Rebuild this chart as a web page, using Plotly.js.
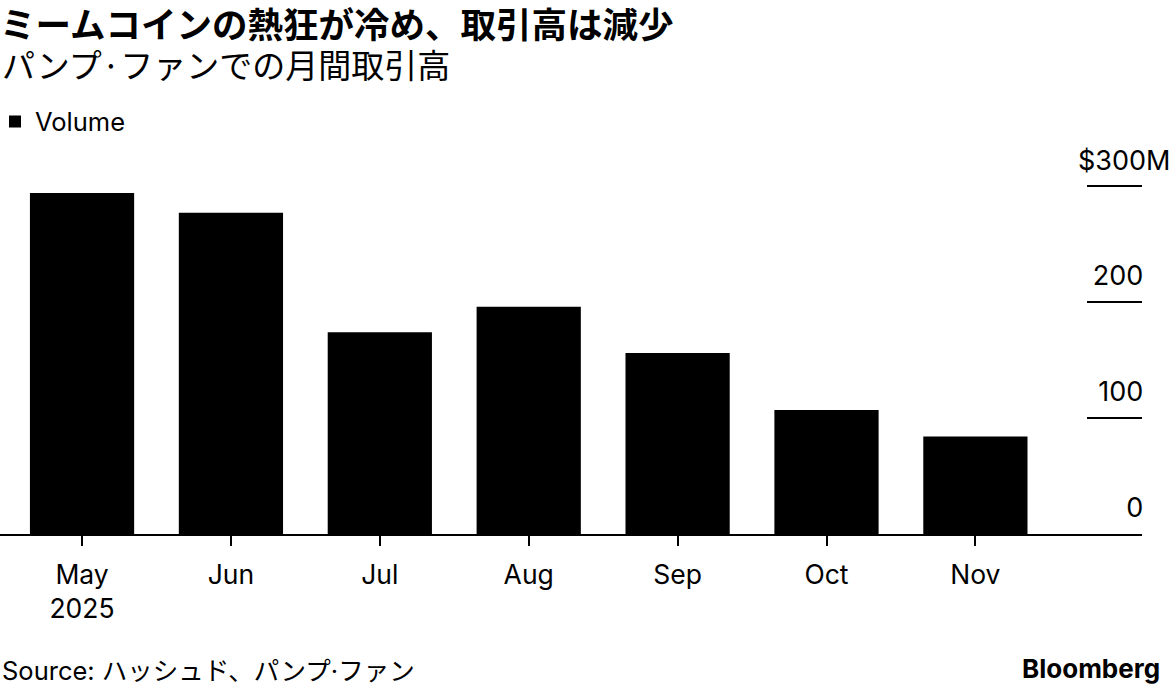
<!DOCTYPE html>
<html>
<head>
<meta charset="utf-8">
<script src="https://cdn.plot.ly/plotly-3.0.1.min.js"></script>
<style>html,body{margin:0;padding:0;background:#fff;}#chart{width:1173px;height:690px;}</style>
</head>
<body>
<div id="chart"></div>
<script>
const months = ["May", "Jun", "Jul", "Aug", "Sep", "Oct", "Nov"];
const monthLabels = ["May<br>2025", "Jun", "Jul", "Aug", "Sep", "Oct", "Nov"];
const volume = [294, 277, 174, 196, 156, 107, 84];
const yTickVals = [0, 100, 200, 300];
const yTickText = ["0", "100", "200", ""];
const topTickLabel = "$300M";

const latin = "Inter, 'Noto Sans CJK JP', sans-serif";
const cjk = "'Noto Sans CJK JP', Inter, sans-serif";

const trace = {
  type: "bar",
  x: months,
  y: volume,
  name: "Volume",
  marker: {color: "#000000", line: {width: 0}},
  hoverinfo: "x+y"
};

const layout = {
  width: 1173,
  height: 690,
  paper_bgcolor: "#ffffff",
  plot_bgcolor: "#ffffff",
  margin: {l: 0, r: 31, t: 170, b: 156, autoexpand: false},
  bargap: 0.3,
  showlegend: true,
  legend: {
    x: -5 / 1142, xanchor: "left", y: 1.132, yanchor: "middle",
    font: {family: latin, size: 25.5, color: "#000"},
    bgcolor: "rgba(0,0,0,0)", borderwidth: 0
  },
  title: {
    text: "<b>ミームコインの熱狂が冷め、取引高は減少</b>",
    font: {family: cjk, size: 35.5, color: "#000"},
    x: 0, xref: "container", xanchor: "left",
    y: 1 - 26 / 690, yref: "container", yanchor: "middle"
  },
  xaxis: {
    type: "category",
    categoryorder: "array",
    categoryarray: months,
    tickvals: months,
    ticktext: monthLabels,
    range: [-0.551, 7.119],
    showline: true, linecolor: "#000", linewidth: 2,
    ticks: "outside", ticklen: 10, tickwidth: 2, tickcolor: "#000",
    ticklabelstandoff: 6,
    showgrid: false, zeroline: false,
    tickfont: {family: latin, size: 26.5, color: "#000"}
  },
  yaxis: {
    side: "right",
    range: [0, 313.8],
    tickvals: yTickVals,
    ticktext: yTickText,
    ticks: "inside", ticklen: 55, tickwidth: 2, tickcolor: "#000",
    ticklabelposition: "inside",
    ticklabelshift: -26,
    ticklabelstandoff: -54,
    showgrid: false, zeroline: false, showline: false,
    tickfont: {family: latin, size: 27, color: "#000"}
  },
  annotations: [
    {
      text: "パンプ·ファンでの月間取引高",
      xref: "paper", x: 0, xanchor: "left",
      yref: "paper", y: (534 - 64) / 364, yanchor: "middle",
      showarrow: false,
      font: {family: cjk, size: 33, color: "#000"}
    },
    {
      text: topTickLabel,
      xref: "paper", x: 1172 / 1142, xanchor: "right",
      yref: "y", y: 300, yanchor: "middle", yshift: 26,
      showarrow: false,
      font: {family: latin, size: 27, color: "#000"}
    },
    {
      text: "Source: ハッシュド、パンプ·ファン",
      xref: "paper", x: 0, xanchor: "left",
      yref: "paper", y: (534 - 670) / 364, yanchor: "middle",
      showarrow: false,
      font: {family: latin, size: 25.5, color: "#000"}
    },
    {
      text: "<b>Bloomberg</b>",
      xref: "paper", x: 1162 / 1142, xanchor: "right",
      yref: "paper", y: (534 - 668) / 364, yanchor: "middle",
      showarrow: false,
      font: {family: latin, size: 26, color: "#000"}
    }
  ]
};

Plotly.newPlot("chart", [trace], layout, {displayModeBar: false, staticPlot: true});
</script>
</body>
</html>
